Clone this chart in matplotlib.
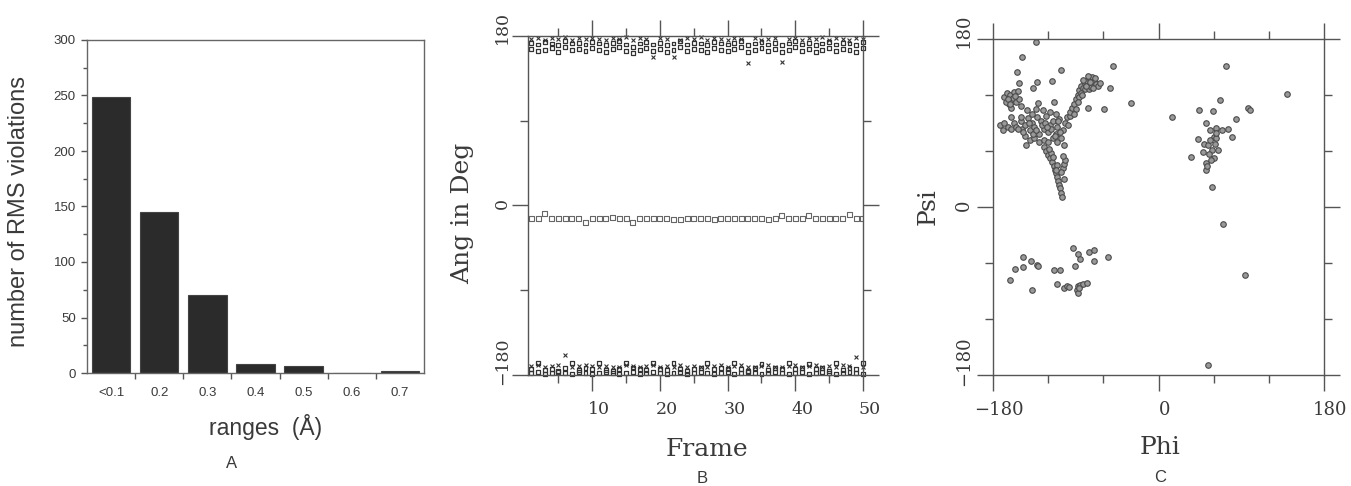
import matplotlib
matplotlib.use('Agg')
import matplotlib.pyplot as plt
from matplotlib.ticker import FixedLocator
from matplotlib.transforms import ScaledTranslation

# ---------------- data ----------------
# Panel A
range_labels = ['<0.1', '0.2', '0.3', '0.4', '0.5', '0.6', '0.7']
violation_counts = [249, 145, 70, 8, 6, 0, 2]
countA_ticks = [0, 50, 100, 150, 200, 250, 300]

# Panel B (angle vs frame)
frames = list(range(1, 51))
zero_sq = [-14, -14, -9, -14, -14, -14, -14, -14, -18, -14,
           -14, -14, -13, -14, -14, -18, -14, -14, -14, -14,
           -14, -15, -15, -14, -14, -14, -14, -15, -14, -14,
           -14, -14, -14, -14, -14, -15, -14, -11, -14, -14,
           -14, -11, -14, -14, -14, -14, -14, -10, -14, -14]
top_x = [177, 178, 176, 178, 177, 179, 176, 178, 177, 178,
         177, 176, 178, 177, 179, 176, 178, 177, 158, 178,
         177, 158, 176, 178, 177, 179, 176, 178, 177, 176,
         178, 177, 151, 178, 176, 177, 178, 152, 177, 178,
         176, 178, 177, 179, 176, 178, 177, 176, 178, 177]
top_s1 = [173, 171, 174, 172, 170, 175, 172, 173, 171, 174,
          172, 170, 173, 175, 171, 168, 172, 174, 171, 173,
          170, 172, 175, 171, 173, 172, 170, 174, 172, 171,
          173, 175, 170, 172, 174, 171, 173, 170, 172, 175,
          171, 173, 170, 172, 174, 171, 173, 172, 170, 174]
top_s2 = [166, 164, 165, 167, 163, 168, 165, 166, 164, 167,
          165, 163, 166, 168, 164, 162, 165, 167, 164, 166,
          163, 165, 168, 164, 166, 165, 163, 167, 165, 164,
          166, 168, 163, 165, 167, 164, 166, 163, 165, 168,
          164, 166, 163, 165, 167, 164, 166, 165, 163, 167]
bot_x = [-170, -169, -171, -170, -169, -159, -171, -170, -169, -170,
         -171, -170, -172, -171, -169, -170, -171, -170, -169, -171,
         -170, -172, -169, -171, -170, -172, -171, -170, -169, -171,
         -170, -169, -172, -171, -170, -169, -171, -172, -170, -169,
         -171, -170, -169, -171, -170, -172, -169, -170, -161, -171]
bot_s1 = [-174, -167, -175, -174, -176, -173, -167, -175, -173, -174,
          -167, -175, -176, -174, -167, -172, -174, -175, -167, -174,
          -175, -167, -174, -176, -174, -173, -167, -174, -173, -174,
          -167, -174, -176, -173, -168, -175, -173, -174, -167, -174,
          -173, -168, -174, -173, -176, -167, -175, -173, -174, -167]
bot_s2 = [-178, -177, -179, -178, -177, -178, -179, -177, -178, -179,
          -178, -177, -178, -179, -178, -177, -179, -178, -177, -178,
          -179, -178, -177, -179, -178, -177, -178, -179, -178, -177,
          -179, -178, -177, -178, -179, -178, -177, -178, -179, -178,
          -177, -179, -178, -177, -178, -179, -178, -177, -178, -179]
angle_ticks = [-180, 0, 180]
frame_ticks = [10, 20, 30, 40, 50]

# Panel C (Ramachandran), grouped by region
phi_scatter = [-133, -149, -154, -152, -137, -132, -116, -106, -49, -53, -30, -59, -77,
               -114, -131, -169, -144, -103]
psi_scatter = [177, 161, 145, 133, 128, 134, 135, 147, 151, 127, 111, 105, 106,
               113, 111, 82, 66, 66]
phi_blob = [-168, -165, -162, -160, -158, -163, -155, -152, -150, -166, -160, -157, -153,
            -164, -161, -156]
psi_blob = [118, 122, 120, 113, 117, 110, 112, 116, 108, 113, 106, 123, 124,
            116, 110, 119]
phi_band = [-172, -168, -164, -160, -157, -155, -150, -148, -145, -142, -140, -138, -135,
            -132, -130, -128, -125, -122, -120, -118, -115, -112, -110, -108, -106, -104,
            -102, -100, -98, -96, -145, -140, -135, -130, -125, -120, -115, -110, -138,
            -126, -118, -112, -150, -160, -143, -133, -147, -137, -127, -117, -107, -123,
            -113, -133, -141, -153, -121, -109]
psi_band = [88, 90, 86, 84, 90, 86, 92, 84, 88, 95, 82, 90, 86,
            96, 78, 92, 84, 97, 80, 88, 92, 78, 86, 94, 74, 82,
            90, 96, 88, 98, 76, 72, 74, 70, 72, 70, 74, 70, 100,
            104, 102, 100, 96, 96, 104, 105, 80, 78, 88, 84, 80, 90,
            76, 82, 90, 84, 86, 92]
phi_arm = [-125, -122, -120, -118, -116, -114, -113, -112, -110, -109, -108, -107, -106,
           -105, -104, -103, -102, -104, -106, -110, -117, -103, -119, -115, -111]
psi_arm = [64, 60, 56, 52, 48, 44, 40, 36, 32, 28, 24, 20, 15,
           11, 42, 46, 50, 55, 38, 45, 58, 30, 62, 54, 40]
phi_beta = [-96, -94, -92, -90, -88, -86, -84, -82, -80, -78, -76, -74, -72, -70, -68, -66,
            -86, -84, -80, -76, -73, -88, -90, -82, -77, -71, -64, -92, -79, -75, -83, -69]
psi_beta = [102, 106, 110, 116, 120, 125, 130, 128, 133, 135, 131, 137, 139, 135, 132, 130,
            118, 122, 126, 126, 129, 112, 105, 136, 140, 127, 133, 100, 130, 134, 120, 138]
phi_right = [73, 140, 15, 44, 59, 67, 97, 99, 84, 80, 43, 35, 58,
             52, 56, 63, 69, 76, 60, 49, 54, 61, 65, 48, 60, 52, 52, 56, 63, 58, 53,
             57, 62, 55]
psi_right = [151, 121, 96, 104, 103, 115, 106, 104, 94, 75, 73, 54, 21,
             90, 82, 85, 83, 84, 75, 68, 66, 68, 61, 59, 52, 47, 40, 72, 74, 61, 44,
             50, 79, 57]
phi_iso = [54, 94, 70]
psi_iso = [-169, -73, -18]
phi_low = [-93, -88, -85, -76, -70, -70, -55, -147, -139, -132, -131, -147, -156, -114,
           -107, -91, -161, -138, -110, -103, -99, -97, -89, -88, -85, -82, -78, -88, -87]
psi_low = [-44, -50, -56, -48, -46, -58, -54, -54, -58, -62, -63, -64, -66, -68,
           -68, -63, -78, -89, -83, -87, -85, -86, -89, -85, -84, -83, -81, -92, -87]
rama_ticks = [-180, 0, 180]

# ---------------- figure ----------------
W, H = 1351, 486
fig = plt.figure(figsize=(W / 100, H / 100), dpi=100)
TXT = '#3a3a3a'
LINE = '#555555'
SERIF = 'DejaVu Serif'
SANS = 'Liberation Sans'


def rect(l, t, r, b):
    return [l / W, 1 - b / H, (r - l) / W, (b - t) / H]


def shift(label, dx, dy):
    label.set_transform(label.get_transform() + ScaledTranslation(dx / 100, dy / 100, fig.dpi_scale_trans))


# ---- Panel A ----
axA = fig.add_axes(rect(87, 40, 424, 373))
axA.bar(range(len(violation_counts)), violation_counts, width=0.8,
        color='#2b2b2b', edgecolor='#444444', linewidth=0.8)
axA.set_xlim(-0.5, len(violation_counts) - 0.5)
axA.set_ylim(0, 300)
axA.set_xticks(range(len(range_labels)))
axA.set_xticklabels(range_labels, fontsize=9.5, family=SANS, color=TXT)
axA.xaxis.set_minor_locator(FixedLocator([i + 0.5 for i in range(len(range_labels) - 1)]))
axA.tick_params(axis='x', which='major', length=0, pad=10)
axA.tick_params(axis='x', which='minor', length=4, width=1, color=LINE, direction='out')
axA.set_yticks(countA_ticks)
axA.set_yticklabels([str(v) for v in countA_ticks], fontsize=9.5, family=SANS, color=TXT)
axA.yaxis.set_minor_locator(FixedLocator([25, 75, 125, 175, 225, 275]))
axA.tick_params(axis='y', which='major', length=4, width=1, color=LINE, pad=4)
axA.tick_params(axis='y', which='minor', length=3, width=1, color=LINE)
for s in axA.spines.values():
    s.set_color('#666666')
    s.set_linewidth(1)
fig.text(19 / W, 1 - 211 / H, 'number of RMS violations', rotation=90, ha='center', va='center',
         fontsize=17, family=SANS, color=TXT)
fig.text(266 / W, 1 - 427 / H, 'ranges  (Å)', ha='center', va='center', fontsize=16.5, family=SANS, color=TXT)
fig.text(232 / W, 1 - 463 / H, 'A', ha='center', va='center', fontsize=12, family=SANS, color=TXT)


def frame_style(ax, xmaj, xmin, ymaj, ymin):
    ax.xaxis.set_major_locator(FixedLocator(xmaj))
    ax.xaxis.set_minor_locator(FixedLocator(xmin))
    ax.yaxis.set_major_locator(FixedLocator(ymaj))
    ax.yaxis.set_minor_locator(FixedLocator(ymin))
    ax.tick_params(which='both', direction='out', top=True, right=True, color=LINE, width=1)
    ax.tick_params(which='major', length=11.5)
    ax.tick_params(which='minor', length=5.8)
    for s in ax.spines.values():
        s.set_color(LINE)
        s.set_linewidth(1)


# ---- Panel B ----
axB = fig.add_axes(rect(528, 36, 863, 375))
axB.set_xlim(0.5, 50)
axB.set_ylim(-180, 180)
mk = dict(s=8, facecolors='none', edgecolors='#333333', linewidths=0.9, clip_on=False)
axB.scatter(frames, zero_sq, marker='s', s=13, facecolors='none', edgecolors='#666666', linewidths=0.8)
axB.scatter(frames, top_x, marker='x', s=8, color='#333333', linewidths=0.8, clip_on=False)
axB.scatter(frames, top_s1, marker='s', **mk)
axB.scatter(frames, top_s2, marker='s', **mk)
axB.scatter(frames, bot_x, marker='x', s=8, color='#333333', linewidths=0.8, clip_on=False)
axB.scatter(frames, bot_s1, marker='s', **mk)
axB.scatter(frames, bot_s2, marker='s', **mk)
frame_style(axB, frame_ticks, [5, 15, 25, 35, 45], angle_ticks, [-90, 90])
axB.set_xticklabels([str(v) for v in frame_ticks], fontsize=12.5, family=SERIF, color=TXT)
axB.set_yticklabels(['−180', '0', '180'], fontsize=12.5, family=SERIF, color=TXT,
                    rotation=90, va='center')
axB.tick_params(axis='x', which='major', pad=7)
axB.tick_params(axis='y', which='major', pad=1)
for lab in axB.get_xticklabels():
    shift(lab, 7, 0)
for lab, dy in zip(axB.get_yticklabels(), [14, 2, 8]):
    shift(lab, 0, dy)
fig.text(463 / W, 1 - 213 / H, 'Ang in Deg', rotation=90, ha='center', va='center',
         fontsize=18, family=SERIF, color=TXT)
fig.text(707 / W, 1 - 449 / H, 'Frame', ha='center', va='center', fontsize=18, family=SERIF, color=TXT)
fig.text(702 / W, 1 - 478 / H, 'B', ha='center', va='center', fontsize=12, family=SANS, color=TXT)

# ---- Panel C ----
axC = fig.add_axes(rect(993, 39, 1324, 375))
axC.set_xlim(-180, 180)
axC.set_ylim(-180, 180)
groups = [(phi_scatter, psi_scatter), (phi_blob, psi_blob), (phi_band, psi_band),
          (phi_arm, psi_arm), (phi_beta, psi_beta), (phi_right, psi_right),
          (phi_iso, psi_iso), (phi_low, psi_low)]
for gx, gy in groups:
    axC.scatter(gx, gy, s=16, facecolors='#999999', edgecolors='#4a4a4a', linewidths=0.8)
frame_style(axC, rama_ticks, [-120, -60, 60, 120], rama_ticks, [-120, -60, 60, 120])
axC.set_xticklabels(['−180', '0', '180'], fontsize=13, family=SERIF, color=TXT)
axC.set_yticklabels(['−180', '0', '180'], fontsize=13, family=SERIF, color=TXT,
                    rotation=90, va='center')
axC.tick_params(axis='x', which='major', pad=7)
axC.tick_params(axis='y', which='major', pad=3)
for lab in axC.get_xticklabels():
    shift(lab, 6, 0)
for lab, dy in zip(axC.get_yticklabels(), [14, 2, 8]):
    shift(lab, 0, dy)
fig.text(928 / W, 1 - 207 / H, 'Psi', rotation=90, ha='center', va='center',
         fontsize=18, family=SERIF, color=TXT)
fig.text(1160 / W, 1 - 447 / H, 'Phi', ha='center', va='center', fontsize=18, family=SERIF, color=TXT)
fig.text(1160 / W, 1 - 477 / H, 'C', ha='center', va='center', fontsize=12, family=SANS, color=TXT)

fig.savefig('out.png', dpi=100)
